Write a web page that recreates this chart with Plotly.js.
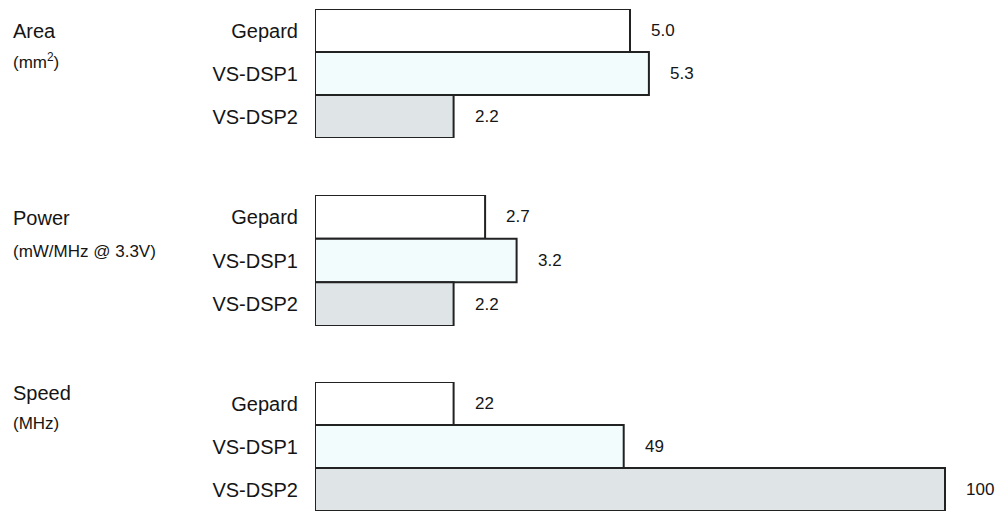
<!DOCTYPE html>
<html>
<head>
<meta charset="utf-8">
<script src="https://cdn.plot.ly/plotly-3.0.1.min.js"></script>
<style>html,body{margin:0;padding:0;background:#fff;}#chart{width:995px;height:512px;}</style>
</head>
<body>
<div id="chart"></div>
<script>
// ---- data ----
var chips = ['Gepard', 'VS-DSP1', 'VS-DSP2'];
var groupNames = ['Area', 'Power', 'Speed'];
var groupUnits = ['(mm<sup>2</sup>)', '(mW/MHz @ 3.3V)', '(MHz)'];
var areaValues = [5.0, 5.3, 2.2];
var powerValues = [2.7, 3.2, 2.2];
var speedValues = [22, 49, 100];
var areaLabels = ['5.0', '5.3', '2.2'];
var powerLabels = ['2.7', '3.2', '2.2'];
var speedLabels = ['22', '49', '100'];

// ---- styles ----
var chipColors = ['#ffffff', '#f2fcfd', '#dfe5e7'];
var FONT = 'Liberation Sans, Arial, Helvetica, sans-serif';
var TXT = '#151515';

var groups = [
  {vals: areaValues, labels: areaLabels, xa: 'x', ya: 'y'},
  {vals: powerValues, labels: powerLabels, xa: 'x2', ya: 'y2'},
  {vals: speedValues, labels: speedLabels, xa: 'x3', ya: 'y3'}
];

var traces = groups.map(function (g, i) {
  return {
    type: 'bar', orientation: 'h',
    x: g.vals, y: chips,
    xaxis: g.xa, yaxis: g.ya,
    marker: {color: chipColors, line: {color: '#222222', width: 2}},
    width: 1,
    hoverinfo: 'x+y', showlegend: false, cliponaxis: false
  };
});

var annotations = [];
groups.forEach(function (g) {
  g.vals.forEach(function (v, j) {
    annotations.push({
      x: v, y: chips[j], xref: g.xa, yref: g.ya,
      text: g.labels[j], showarrow: false, xanchor: 'left', yanchor: 'middle',
      xshift: 19, font: {family: FONT, size: 17, color: TXT}
    });
  });
});

// group titles (pixel positions -> paper)
var titleY = [31, 218, 393];
var unitY = [61, 251, 423];
groupNames.forEach(function (n, i) {
  annotations.push({
    x: 11 / 995, y: 1 - titleY[i] / 512, xref: 'paper', yref: 'paper',
    text: n, showarrow: false, xanchor: 'left', yanchor: 'middle',
    font: {family: FONT, size: 20, color: TXT}
  });
  annotations.push({
    x: 11 / 995, y: 1 - unitY[i] / 512, xref: 'paper', yref: 'paper',
    text: groupUnits[i], showarrow: false, xanchor: 'left', yanchor: 'middle',
    font: {family: FONT, size: 17, color: TXT}
  });
});

var x0 = 315 / 995;
var pxPerUnit = 63;
var R = (995 - 315) / pxPerUnit;

function xax(range, anchor) {
  return {domain: [x0, 1], range: [0, range], anchor: anchor,
    showgrid: false, zeroline: false, showticklabels: false, showline: false, ticks: '', fixedrange: true};
}
function yax(dom, anchor) {
  return {domain: dom, anchor: anchor, type: 'category', range: [2.5, -0.5],
    showgrid: false, zeroline: false, showline: false, ticks: '',
    ticklabelstandoff: 16,
    tickfont: {family: FONT, size: 20, color: TXT}, fixedrange: true};
}

var layout = {
  width: 995, height: 512,
  margin: {l: 0, r: 0, t: 0, b: 0, pad: 0},
  paper_bgcolor: '#ffffff', plot_bgcolor: '#ffffff',
  bargap: 0,
  xaxis: xax(R, 'y'),
  xaxis2: xax(R, 'y2'),
  xaxis3: xax(R * 10, 'y3'),
  yaxis: yax([1 - 138 / 512, 1 - 9 / 512], 'x'),
  yaxis2: yax([1 - 326 / 512, 1 - 195 / 512], 'x2'),
  yaxis3: yax([1 - 511 / 512, 1 - 382 / 512], 'x3'),
  annotations: annotations
};

Plotly.newPlot('chart', traces, layout, {displayModeBar: false, staticPlot: true});
</script>
</body>
</html>
